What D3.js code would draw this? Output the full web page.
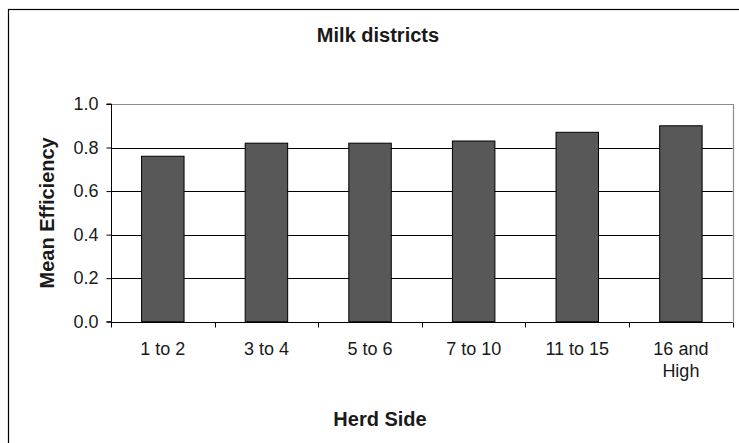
<!DOCTYPE html>
<html>
<head>
<meta charset="utf-8">
<script src="https://cdn.jsdelivr.net/npm/d3@7/dist/d3.min.js"></script>
<style>
  html, body { margin: 0; padding: 0; background: #fff; }
  svg { display: block; font-family: Arial, "Liberation Sans", sans-serif; }
</style>
</head>
<body>
<svg id="chart" width="739" height="443"></svg>
<script>
// Mean efficiency by herd size class, milk districts
const categories = ["1 to 2", "3 to 4", "5 to 6", "7 to 10", "11 to 15", "16 and\nHigh"];
const meanEfficiency = [0.76, 0.82, 0.82, 0.83, 0.87, 0.90];
const yTicks = [0, 0.2, 0.4, 0.6, 0.8, 1.0];

const chartTitle = "Milk districts";
const xTitle = "Herd Side";
const yTitle = "Mean Efficiency";

const svg = d3.select("#chart");
const W = 739, H = 443;

const plot = { left: 111, right: 732.7, top: 104, bottom: 321.7 };

// outer chart frame (extends past the right and bottom edges)
svg.append("rect")
  .attr("x", 8.5).attr("y", 9.5)
  .attr("width", 800).attr("height", 600)
  .attr("fill", "#fff")
  .attr("stroke", "#000").attr("stroke-width", 1.2);

const y = d3.scaleLinear().domain([0, 1]).range([plot.bottom, plot.top]);
const xSlots = d3.scaleBand().domain(categories).range([plot.left, plot.right]).padding(0);
const x = d3.scaleBand().domain(categories).range([plot.left, plot.right])
  .paddingInner(0.59).paddingOuter(0.295);

// horizontal gridlines
svg.append("g")
  .selectAll("line")
  .data(yTicks.filter(t => t > 0 && t < 1))
  .join("line")
  .attr("x1", plot.left).attr("x2", plot.right)
  .attr("y1", d => Math.round(y(d)) + 0.5).attr("y2", d => Math.round(y(d)) + 0.5)
  .attr("stroke", "#000").attr("stroke-width", 1);

// plot area border: top and right in gray
svg.append("path")
  .attr("d", `M${plot.left},${Math.round(plot.top) + 0.5}H${Math.round(plot.right) + 0.5}V${plot.bottom}`)
  .attr("fill", "none").attr("stroke", "#8c8c8c").attr("stroke-width", 1.2);

// bars
svg.append("g")
  .selectAll("rect")
  .data(categories.map((c, i) => ({ c, v: meanEfficiency[i] })))
  .join("rect")
  .attr("x", d => x(d.c))
  .attr("width", x.bandwidth())
  .attr("y", d => y(d.v))
  .attr("height", d => y(0) - y(d.v))
  .attr("fill", "#585858")
  .attr("stroke", "#000").attr("stroke-width", 1);

// y axis
const yAxis = d3.axisLeft(y).tickValues(yTicks).tickFormat(d3.format(".1f"))
  .tickSize(5).tickPadding(8);
const gy = svg.append("g").attr("transform", `translate(${Math.round(plot.left) + 0.5},0)`).call(yAxis);
gy.select(".domain").attr("stroke", "#000").attr("d", `M-5,${plot.top}H0V${plot.bottom}H-5`);
gy.selectAll(".tick line").attr("stroke", "#000");
gy.selectAll(".tick text").attr("font-size", 18).attr("fill", "#1a1a1a")
  .attr("font-family", 'Arial, "Liberation Sans", sans-serif');

// x axis with ticks at category boundaries
const gx = svg.append("g").attr("transform", `translate(0,${Math.round(plot.bottom) + 0.5})`);
gx.append("line")
  .attr("x1", plot.left).attr("x2", plot.right)
  .attr("stroke", "#000");
const boundaries = categories.map(c => xSlots(c)).concat([plot.right]);
gx.selectAll("line.tick")
  .data(boundaries)
  .join("line")
  .attr("class", "tick")
  .attr("x1", d => Math.round(d) + 0.5).attr("x2", d => Math.round(d) + 0.5)
  .attr("y1", 0).attr("y2", 5)
  .attr("stroke", "#000");

// category labels (multi-line where needed)
const labels = svg.append("g");
categories.forEach(c => {
  const t = labels.append("text")
    .attr("x", xSlots(c) + xSlots.bandwidth() / 2)
    .attr("y", 355)
    .attr("text-anchor", "middle")
    .attr("font-size", 18)
    .attr("fill", "#1a1a1a");
  c.split("\n").forEach((line, i) => {
    t.append("tspan")
      .attr("x", xSlots(c) + xSlots.bandwidth() / 2)
      .attr("dy", i === 0 ? 0 : 22)
      .text(line);
  });
});

// titles
svg.append("text")
  .attr("x", 378).attr("y", 41.5)
  .attr("text-anchor", "middle")
  .attr("font-size", 20).attr("font-weight", "bold").attr("fill", "#1a1a1a")
  .text(chartTitle);

svg.append("text")
  .attr("x", 380).attr("y", 426)
  .attr("text-anchor", "middle")
  .attr("font-size", 20).attr("font-weight", "bold").attr("fill", "#1a1a1a")
  .text(xTitle);

svg.append("text")
  .attr("transform", `translate(54,${(plot.top + plot.bottom) / 2}) rotate(-90)`)
  .attr("text-anchor", "middle")
  .attr("font-size", 20).attr("font-weight", "bold").attr("fill", "#1a1a1a")
  .text(yTitle);
</script>
</body>
</html>
